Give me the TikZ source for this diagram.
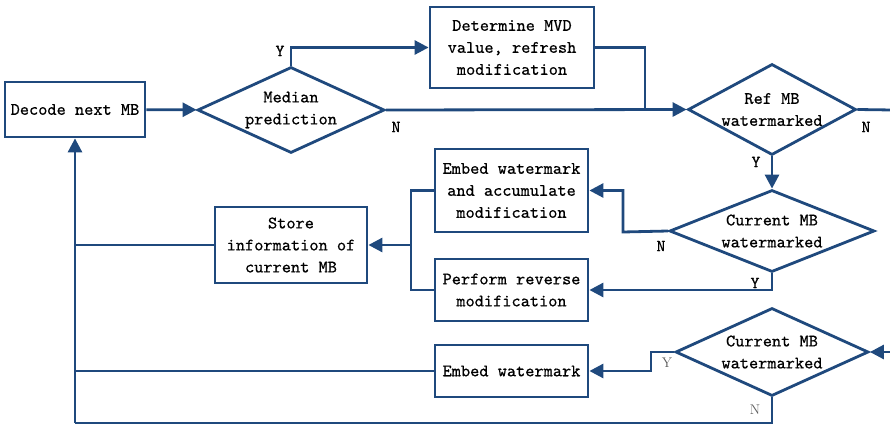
\documentclass[tikz,border=0pt]{standalone}
\usepackage{fontspec}
\usetikzlibrary{shapes.geometric,arrows.meta}
\newfontfamily\flowtt{lmmono10-regular.otf}[FakeBold=0.6]
\definecolor{flowblue}{RGB}{31,73,125}
\definecolor{labelgray}{RGB}{90,90,90}
\newcommand{\flowfont}{\flowtt\fontsize{17.5}{22}\selectfont}
\tikzset{
  link/.style={draw=flowblue, line width=2.8pt},
  linkarrow/.style={link, -{Triangle[length=14pt,width=14pt]}},
  proc/.style={draw=flowblue, line width=2.8pt, inner sep=0pt, align=center, font=\flowfont},
  decision/.style={diamond, draw=flowblue, line width=2.8pt, inner sep=-4pt, align=center, font=\flowfont},
  yn/.style={font=\flowtt\fontsize{17}{17}\selectfont, inner sep=0pt},
  ynsmall/.style={font=\rmfamily\fontsize{14}{14}\selectfont, text=labelgray, inner sep=0pt}
}
\begin{document}
\begin{tikzpicture}[x=1pt,y=-1pt]
    \useasboundingbox (0,0) rectangle (890,427);
    % boxes and decisions
    \node[proc, minimum width=140pt, minimum height=55pt] (decode) at (75,109.5) {Decode next MB};
    \node[decision, minimum width=187pt, minimum height=86pt, aspect=2.17] (median) at (291,110) {Median\\prediction};
    \node[proc, minimum width=164pt, minimum height=81pt] (mvd) at (512,47.5) {Determine MVD\\value, refresh\\modification};
    \node[decision, minimum width=168pt, minimum height=91pt, aspect=1.85] (refmb) at (772,109.5) {Ref MB\\watermarked};
    \node[proc, minimum width=153pt, minimum height=83pt] (embacc) at (511.5,190.5) {Embed watermark\\and accumulate\\modification};
    \node[decision, minimum width=205pt, minimum height=82pt, aspect=2.5] (curmbA) at (772,231) {Current MB\\watermarked};
    \node[proc, minimum width=152pt, minimum height=76pt] (store) at (291,245) {Store\\information of\\current MB};
    \node[proc, minimum width=153pt, minimum height=62pt] (reverse) at (511.5,290) {Perform reverse\\modification};
    \node[decision, minimum width=193pt, minimum height=88pt, aspect=2.2] (curmbB) at (772,352) {Current MB\\watermarked};
    \node[proc, minimum width=153pt, minimum height=52pt] (embed) at (511.5,371) {Embed watermark};
    % junctions
    \coordinate (jmvd) at (645,110);
    \coordinate (edgeR) at (892,110);
    \coordinate (jA) at (623,232);
    \coordinate (jS) at (411,245);
    \coordinate (jL) at (75,423);
    \coordinate (jB) at (651,352);
    \coordinate (edgeB) at (892,352);
    % connectors
    \draw[linkarrow] (decode) -- (median);
    \draw[linkarrow] (median.north) |- (mvd.west);
    \draw[linkarrow] (median.east) -- (refmb.west);
    \draw[link] (mvd.east) -| (jmvd);
    \draw[link] (refmb.east) -- (edgeR);
    \draw[linkarrow] (refmb.south) -- (curmbA.north);
    \draw[linkarrow] (curmbA.west) -- (jA) |- (embacc.east);
    \draw[linkarrow] (curmbA.south) |- (reverse.east);
    \draw[link] (embacc.west) -| (jS);
    \draw[link] (reverse.west) -| (jS);
    \draw[linkarrow] (jS) -- (store.east);
    \draw[link] (store.west) -- (store.west -| decode.south);
    \draw[link] (embed.west) -- (embed.west -| decode.south);
    \draw[link] (curmbB.south) |- (jL);
    \draw[linkarrow] (jL) -- (decode.south);
    \draw[linkarrow] (curmbB.west) -- (jB) |- (embed.east);
    \draw[linkarrow] (edgeB) -- (curmbB.east);
    % Y / N labels
    \node[yn] (ymed) at (280,51) {Y};
    \node[yn] (nmed) at (396,127) {N};
    \node[yn] (nref) at (866,127) {N};
    \node[yn] (yref) at (756,162) {Y};
    \node[yn] (ncurA) at (661,246) {N};
    \node[yn] (ycurA) at (755,283) {Y};
    \node[ynsmall] (ycurB) at (667,363) {Y};
    \node[ynsmall] (ncurB) at (755,410) {N};
\end{tikzpicture}
\end{document}
